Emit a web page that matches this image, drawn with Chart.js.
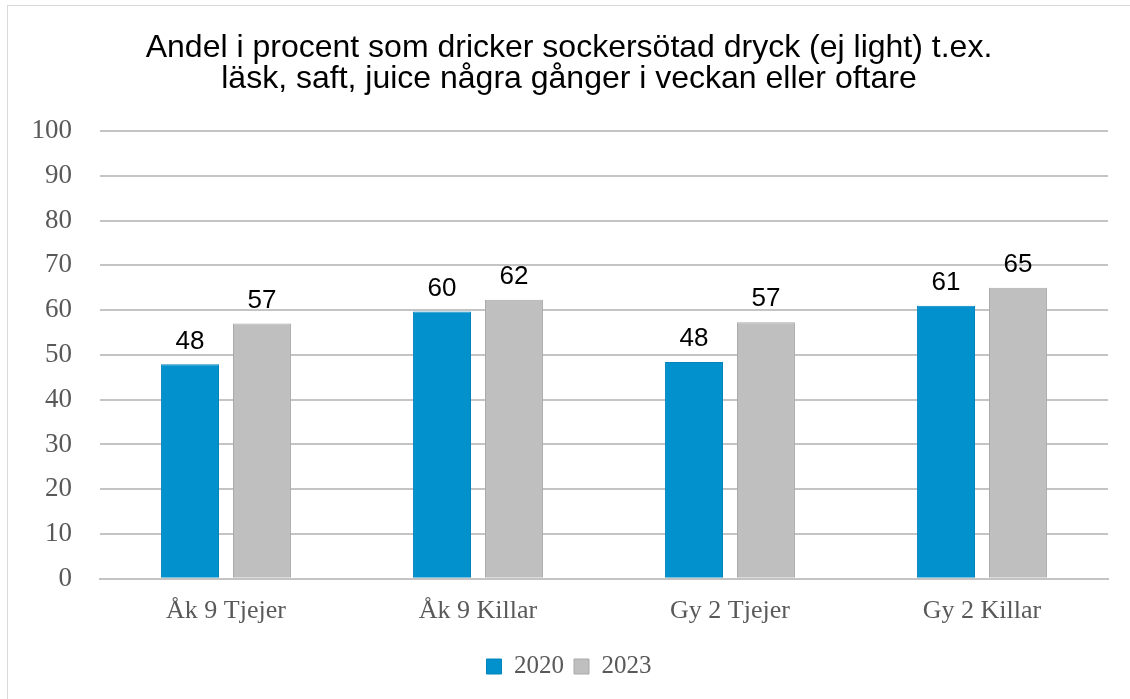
<!DOCTYPE html>
<html>
<head>
<meta charset="utf-8">
<script src="https://cdn.jsdelivr.net/npm/chart.js@4"></script>
<style>
  body{ margin:0; background:#fff; }
  #wrap{ position:relative; width:1130px; height:699px; }
  #ram{ position:absolute; left:7px; top:5px; right:0; bottom:0;
        border-left:1px solid #d9d9d9; border-top:1px solid #d9d9d9; }
  canvas{ position:absolute; left:0; top:0; }
</style>
</head>
<body>
<div id="wrap">
  <div id="ram"></div>
  <canvas id="diagram" width="1130" height="699"></canvas>
</div>
<script>

// data
const grupper = ["Åk 9 Tjejer", "Åk 9 Killar", "Gy 2 Tjejer", "Gy 2 Killar"];
const ar2020 = [47.9, 59.7, 48.4, 61.0];
const ar2023 = [57.0, 62.3, 57.3, 65.0];
const yTicks = [0, 10, 20, 30, 40, 50, 60, 70, 80, 90, 100];

const titel = [
  "Andel i procent som dricker sockersötad dryck (ej light) t.ex.",
  "läsk, saft, juice några gånger i veckan eller oftare"
];

// värden ovanför staplarna
const etiketter = {
  id:'etiketter',
  afterDatasetsDraw(chart){
    const ctx = chart.ctx;
    ctx.save();
    ctx.font = '26px "Liberation Sans", Arial, sans-serif';
    ctx.fillStyle = '#000';
    ctx.textAlign = 'center';
    ctx.textBaseline = 'bottom';
    chart.data.datasets.forEach((ds, i) => {
      chart.getDatasetMeta(i).data.forEach((bar, j) => {
        ctx.fillText(Math.round(ds.data[j]), bar.x, bar.y - 10);
      });
    });
    ctx.restore();
  }
};

const ctx = document.getElementById("diagram");

new Chart(ctx, {
  type:'bar',
  data:{
    labels:grupper,
    datasets:[
      {
        label:'2020',
        data:ar2020,
        backgroundColor:'#0391ce',
        borderColor:'#0284bc',
        borderWidth:1
      },
      {
        label:'2023',
        data:ar2023,
        backgroundColor:'#bfbfbf',
        borderColor:'#a9a9a9',
        borderWidth:1
      }
    ]
  },
  options:{
    responsive:false,
    animation:false,
    categoryPercentage:0.571,
    barPercentage:0.806,
    layout:{
      padding:{ left:30, right:22, top:16, bottom:10 }
    },
    plugins:{
      title:{
        display:true,
        text:titel,
        color:'#000',
        font:{ family:'"Liberation Sans", Arial, sans-serif', size:32, weight:'normal', lineHeight:0.97 },
        padding:{ top:17, bottom:36 }
      },
      legend:{
        position:'bottom',
        labels:{
          color:'#595959',
          font:{ family:'"Liberation Serif", "Times New Roman", serif', size:25 },
          boxWidth:15,
          boxHeight:15,
          padding:10,
          useBorderRadius:false
        }
      },
      tooltip:{ enabled:false }
    },
    scales:{
      y:{
        min:0,
        max:100,
        afterBuildTicks(axis){
          axis.ticks = yTicks.map(v => ({ value:v }));
        },
        afterFit(axis){
          axis.width = 70;
        },
        ticks:{
          color:'#595959',
          padding:28,
          font:{ family:'"Liberation Serif", "Times New Roman", serif', size:27 }
        },
        grid:{ color:'#c4c4c4', lineWidth:2, drawTicks:false },
        border:{ display:false }
      },
      x:{
        ticks:{
          color:'#595959',
          padding:17,
          font:{ family:'"Liberation Serif", "Times New Roman", serif', size:26 }
        },
        grid:{ display:false, drawTicks:false },
        border:{ color:'#c4c4c4', width:2 }
      }
    }
  },
  plugins:[etiketter]
});

</script>
</body>
</html>
